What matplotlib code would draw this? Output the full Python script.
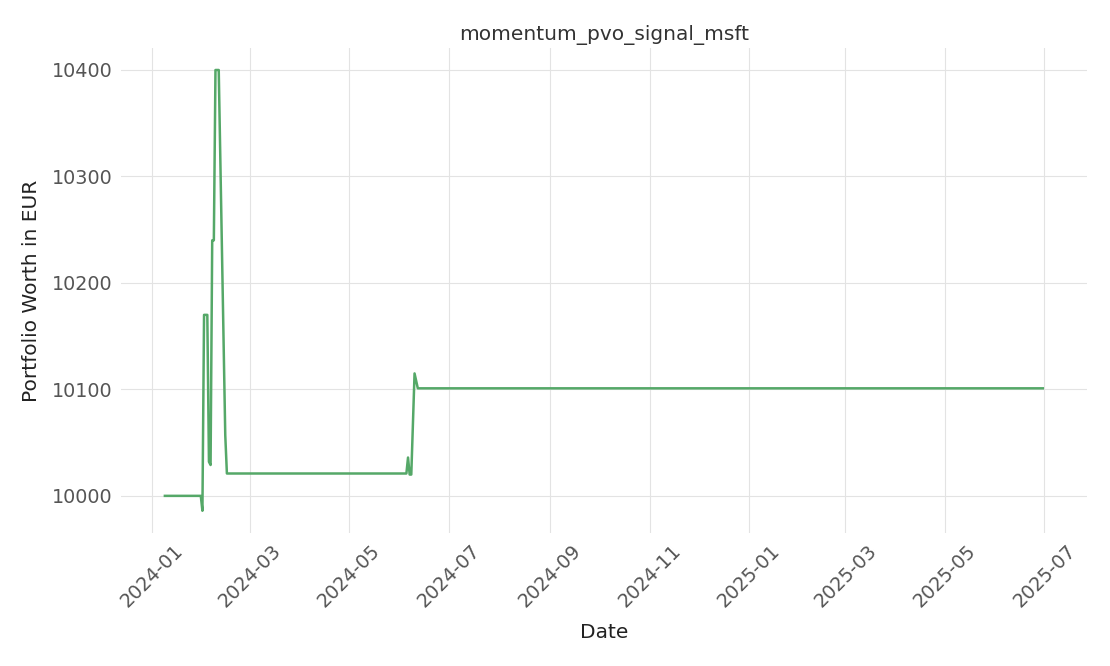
import pandas as pd
import matplotlib.pyplot as plt

# key points of the portfolio curve (flat stretches between them)
dates = [
    "2024-01-09", "2024-01-31", "2024-02-01", "2024-02-02", "2024-02-04",
    "2024-02-05", "2024-02-06", "2024-02-07", "2024-02-08", "2024-02-09",
    "2024-02-11", "2024-02-15", "2024-02-16", "2024-06-05", "2024-06-06",
    "2024-06-07", "2024-06-08", "2024-06-10", "2024-06-12", "2025-06-30",
]
values = [
    10000, 10000, 9986, 10170, 10170,
    10032, 10029, 10240, 10240, 10400,
    10400, 10057, 10021, 10021, 10036,
    10020, 10020, 10115, 10101, 10101,
]

series = pd.Series(values, index=pd.to_datetime(dates))

plt.rcParams["font.family"] = "DejaVu Sans"

fig, ax = plt.subplots(figsize=(11.1, 6.66), dpi=100)
ax.plot(series.index, series.values, color="#55a868", linewidth=1.8)

ax.set_title("momentum_pvo_signal_msft", fontsize=14.5, color="#333333")
ax.set_xlabel("Date", fontsize=14.5, color="#222222", labelpad=9)
ax.set_ylabel("Portfolio Worth in EUR", fontsize=14.5, color="#222222", labelpad=8)

ax.grid(True, color="#e3e3e3", linewidth=0.8)
ax.set_axisbelow(True)
for side in ax.spines.values():
    side.set_visible(False)
ax.tick_params(axis="both", length=0, labelsize=13.8, labelcolor="#555555", pad=6)
plt.setp(ax.get_xticklabels(), rotation=45)

fig.subplots_adjust(left=0.109, right=0.979, top=0.928, bottom=0.2)
fig.savefig("out.png", dpi=100)
